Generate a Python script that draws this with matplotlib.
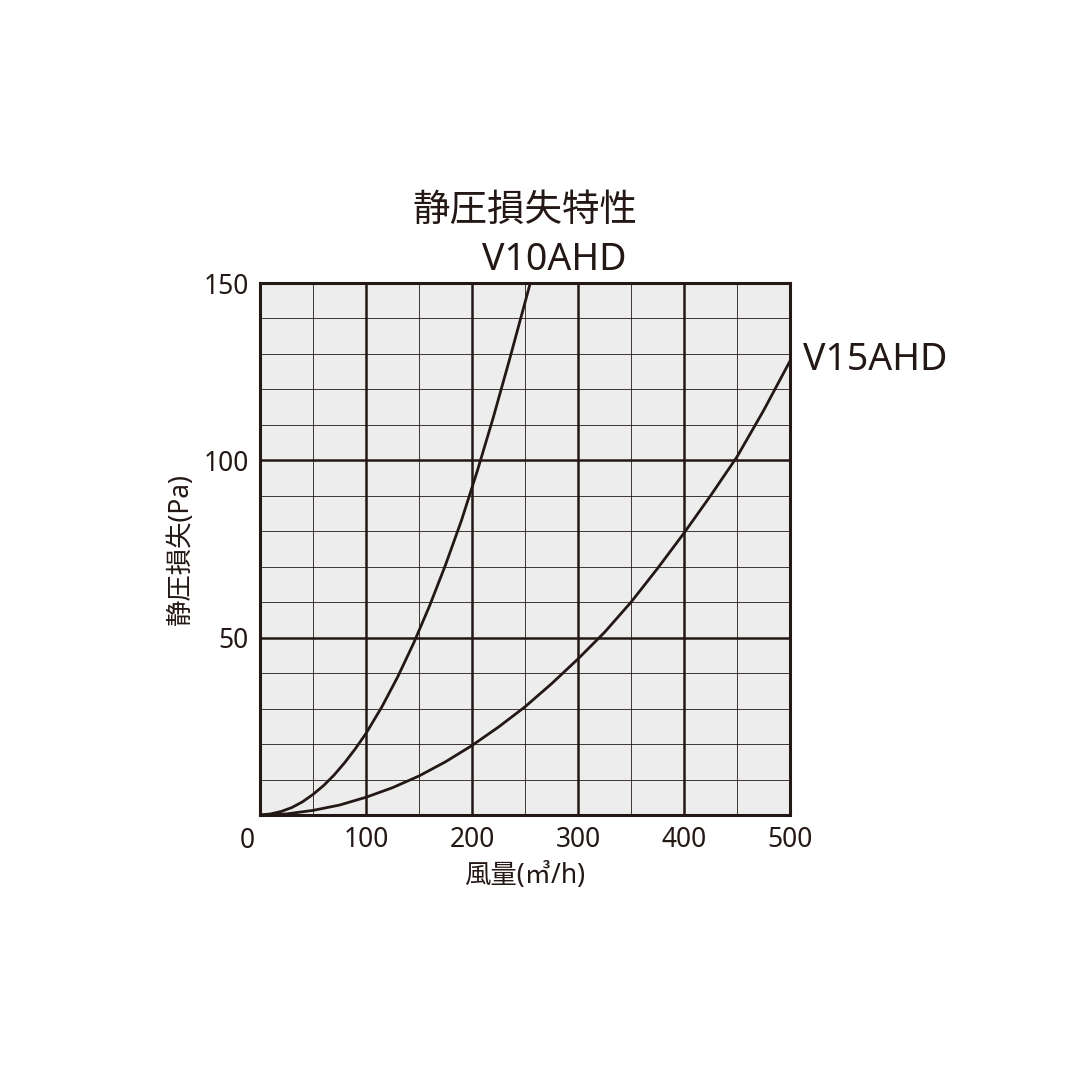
import matplotlib
matplotlib.use("Agg")
import matplotlib.pyplot as plt

plt.rcParams['font.family'] = ['Noto Sans', 'Noto Sans CJK JP', 'DejaVu Sans']

# values
v10_x = [0, 10, 20, 30, 40, 50, 60, 70, 80, 90, 100, 115, 130, 145, 160,
         175, 190, 205, 220, 235, 255]
v10_y = [0, 0.3, 1, 2.1, 3.7, 5.8, 8.3, 11.3, 14.8, 18.7, 23, 30.5, 39,
         48.5, 59, 70.5, 83, 97, 112, 128, 150]
v15_x = [0, 25, 50, 75, 100, 125, 150, 175, 200, 225, 250, 275, 300, 325,
         350, 375, 400, 425, 450, 475, 500]
v15_y = [0, 0.3, 1.3, 2.8, 5, 7.7, 11, 15, 19.6, 24.8, 30.5, 37, 44, 51.5,
         60, 69.5, 79.5, 90, 101, 114, 128]
x_ticks = [100, 200, 300, 400, 500]
y_ticks = [50, 100, 150]

ink = '#231815'
fig = plt.figure(figsize=(10.8, 10.8), dpi=100)
ax = fig.add_axes([260/1080, 265/1080, 530/1080, 532/1080])
ax.set_facecolor('#ededee')
ax.set_xlim(0, 500)
ax.set_ylim(0, 150)

for x in range(50, 500, 50):
    ax.axvline(x, color=ink, lw=1.8 if x % 100 == 0 else 0.6, zorder=1)
for y in range(10, 150, 10):
    ax.axhline(y, color=ink, lw=1.8 if y % 50 == 0 else 0.6, zorder=1)

ax.plot(v10_x, v10_y, color=ink, lw=2, zorder=3)
ax.plot(v15_x, v15_y, color=ink, lw=2, zorder=3)

for s in ax.spines.values():
    s.set_linewidth(2.2)
    s.set_color(ink)
ax.tick_params(length=0, labelsize=19, colors=ink, pad=8)
ax.set_xticks(x_ticks)
ax.set_yticks(y_ticks)
for t in ax.get_xticklabels() + ax.get_yticklabels():
    t.set_fontweight('light')
ax.text(-12, -3.5, '0', fontsize=19, color=ink, ha='center', va='top',
        fontweight='light')

ax.set_xlabel('風量(㎥/h)', fontsize=19, color=ink, labelpad=6)
ax.set_ylabel('静圧損失(Pa)', fontsize=19, color=ink, labelpad=6)
fig.text(525/1080, 1 - 210/1080, '静圧損失特性', fontsize=27, color=ink,
         ha='center', va='center', family=['Noto Sans CJK JP'])
ax.text(278, 151, 'V10AHD', fontsize=27, color=ink, ha='center',
        va='bottom', fontweight='light')
ax.text(512, 123, 'V15AHD', fontsize=27, color=ink, ha='left',
        va='bottom', fontweight='light')

fig.savefig('out.png', dpi=100)
